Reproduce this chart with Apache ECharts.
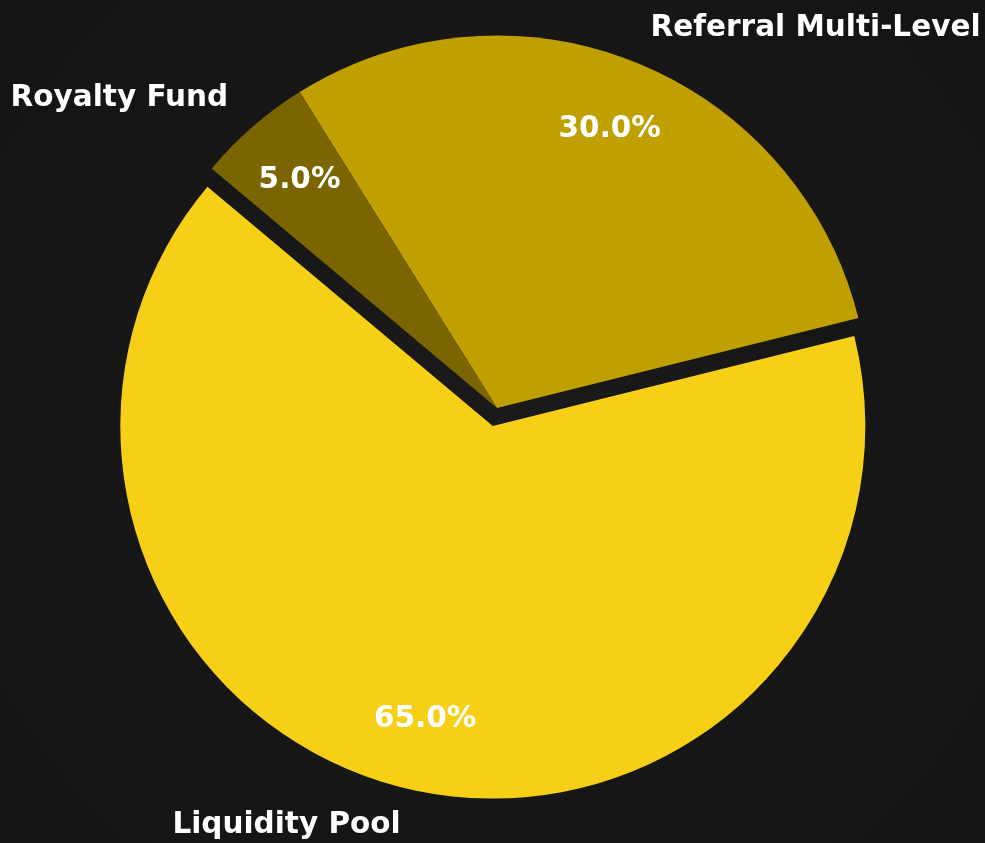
<!DOCTYPE html>
<html>
<head>
<meta charset="utf-8">
<script src="https://cdn.jsdelivr.net/npm/echarts@6/dist/echarts.min.js"></script>
<style>
  html, body { margin: 0; padding: 0; background: #151515; }
  #chart { width: 985px; height: 843px; }
</style>
</head>
<body>
<div id="chart"></div>
<script>
// pie data
var names = ['Liquidity Pool', 'Referral Multi-Level', 'Royalty Fund'];
var shares = [65, 30, 5];
var colors = ['#F6D017', '#BFA000', '#7A6500'];
var exploded = [true, false, false];

var R = 372.5;
var font = 'DejaVu Sans';

var chart = echarts.init(document.getElementById('chart'));

function buildData(transparent) {
  return names.map(function (n, i) {
    var c = transparent ? 'rgba(0,0,0,0)' : colors[i];
    return {
      name: n,
      value: shares[i],
      selected: exploded[i],
      itemStyle: { color: c },
      select: { itemStyle: { color: c, borderWidth: 0 } }
    };
  });
}

var option = {
  backgroundColor: {
    type: 'radial', x: 0.5, y: 0.5, r: 0.75,
    colorStops: [
      { offset: 0, color: '#1a1a1a' },
      { offset: 1, color: '#141414' }
    ]
  },
  animation: false,
  series: [
    {
      // wedges + category labels at 1.1 R
      type: 'pie',
      center: [497, 408],
      radius: [0, R],
      startAngle: 140,
      clockwise: false,
      selectedMode: 'multiple',
      selectedOffset: 18.6,
      avoidLabelOverlap: false,
      emphasis: { disabled: true },
      itemStyle: { borderWidth: 0 },
      label: {
        show: true,
        position: 'outside',
        formatter: '{b}',
        color: '#ffffff',
        fontFamily: font,
        fontWeight: 'bold',
        fontSize: 29.5,
        distanceToLabelLine: 0
      },
      labelLine: { show: false, length: R * 0.1, length2: 0 },
      data: buildData(false)
    },
    {
      // percentage labels at 0.8 R
      type: 'pie',
      center: [497, 408],
      radius: [R * 0.6, R],
      startAngle: 140,
      clockwise: false,
      selectedMode: 'multiple',
      selectedOffset: 18.6,
      avoidLabelOverlap: false,
      emphasis: { disabled: true },
      silent: true,
      itemStyle: { borderWidth: 0 },
      label: {
        show: true,
        position: 'inside',
        formatter: function (p) { return p.percent.toFixed(1) + '%'; },
        color: '#ffffff',
        fontFamily: font,
        fontWeight: 'bold',
        fontSize: 29.5
      },
      labelLine: { show: false },
      data: buildData(true)
    }
  ]
};

chart.setOption(option);
</script>
</body>
</html>
